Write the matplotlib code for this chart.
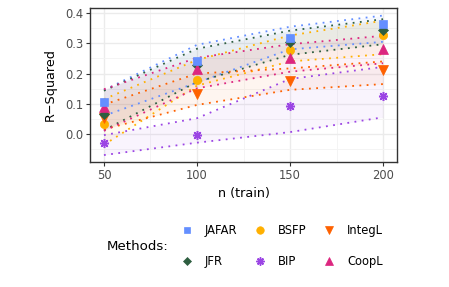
import matplotlib.pyplot as plt
from matplotlib.lines import Line2D

n_train = [50, 100, 150, 200]
methods = ["JAFAR", "JFR", "BSFP", "BIP", "IntegL", "CoopL"]

# median R-squared per method
r2 = {
    "JAFAR": [0.107, 0.242, 0.317, 0.364],
    "JFR": [0.065, 0.227, 0.306, 0.343],
    "BSFP": [0.032, 0.178, 0.278, 0.326],
    "BIP": [-0.029, -0.003, 0.093, 0.124],
    "IntegL": [0.052, 0.131, 0.176, 0.211],
    "CoopL": [0.088, 0.215, 0.251, 0.282],
}
# band limits
upper = {
    "JAFAR": [0.145, 0.295, 0.355, 0.392],
    "JFR": [0.143, 0.282, 0.342, 0.380],
    "BSFP": [0.115, 0.245, 0.326, 0.375],
    "BIP": [-0.004, 0.052, 0.182, 0.222],
    "IntegL": [0.097, 0.200, 0.217, 0.240],
    "CoopL": [0.148, 0.252, 0.297, 0.325],
}
lower = {
    "JAFAR": [0.060, 0.170, 0.280, 0.305],
    "JFR": [0.012, 0.172, 0.262, 0.297],
    "BSFP": [-0.036, 0.160, 0.240, 0.264],
    "BIP": [-0.070, -0.029, 0.006, 0.055],
    "IntegL": [0.015, 0.096, 0.146, 0.165],
    "CoopL": [0.010, 0.151, 0.206, 0.234],
}

colors = {
    "JAFAR": "#648FFF",
    "JFR": "#2E5E40",
    "BSFP": "#FFB000",
    "BIP": "#9B45E4",
    "IntegL": "#FE6100",
    "CoopL": "#DC267F",
}
markers = {
    "JAFAR": "s",
    "JFR": "D",
    "BSFP": "o",
    "BIP": (8, 2, 0),
    "IntegL": "v",
    "CoopL": "^",
}
msize = {"JAFAR": 5.5, "JFR": 4.8, "BSFP": 6, "BIP": 6.5, "IntegL": 6.5, "CoopL": 6.5}

fig = plt.figure(figsize=(4.49, 2.87), dpi=100)
ax = fig.add_axes([90 / 449, 1 - 162 / 287, (397 - 90) / 449, (162 - 8) / 287])

for m in methods:
    c = colors[m]
    ax.fill_between(n_train, lower[m], upper[m], color=c, alpha=0.06, lw=0, zorder=1)
    ax.plot(n_train, upper[m], color=c, ls=(0, (1, 3)), lw=1.3, zorder=2)
    ax.plot(n_train, lower[m], color=c, ls=(0, (1, 3)), lw=1.3, zorder=2)

for m in ["BIP", "BSFP", "IntegL", "JFR", "CoopL", "JAFAR"]:
    ax.plot(n_train, r2[m], ls="none", marker=markers[m], ms=msize[m],
            color=colors[m], mec=colors[m], mew=1.1 if m == "BIP" else 0.5, zorder=3)

ax.set_xlim(42.5, 207.5)
ax.set_ylim(-0.093, 0.417)
ax.set_xticks(n_train)
ax.set_xticks([75, 125, 175], minor=True)
ax.set_yticks([0.0, 0.1, 0.2, 0.3, 0.4])
ax.set_yticks([-0.05, 0.05, 0.15, 0.25, 0.35], minor=True)
ax.set_yticklabels(["0.0", "0.1", "0.2", "0.3", "0.4"])
ax.grid(True, which="major", color="#EBEBEB", lw=1.0, zorder=0)
ax.grid(True, which="minor", color="#F3F3F3", lw=0.6, zorder=0)
ax.set_axisbelow(True)
for s in ax.spines.values():
    s.set_color("#333333")
    s.set_linewidth(1.0)
ax.tick_params(which="major", length=3, color="#333333", labelsize=8.3,
               labelcolor="#4D4D4D", pad=2)
ax.tick_params(which="minor", length=0)
ax.set_xlabel("n (train)", fontsize=9.2, labelpad=4)
ax.set_ylabel("R\u2212Squared", fontsize=9.2, labelpad=6)

handles = [Line2D([], [], ls="none", marker=markers[m], ms=msize[m] * 0.9,
                  color=colors[m], mec=colors[m], mew=1.1 if m == "BIP" else 0.5)
           for m in methods]
fig.legend(handles, methods, ncol=3, loc="center left",
           bbox_to_anchor=(174 / 449, 1 - 246 / 287), frameon=False,
           fontsize=8.3, handlelength=1.2, handletextpad=1.0,
           columnspacing=1.3, labelspacing=1.5, borderpad=0)
fig.text(107 / 449, 1 - 246 / 287, "Methods:", fontsize=9.6, va="center", ha="left")

fig.savefig("out.png", dpi=100)
